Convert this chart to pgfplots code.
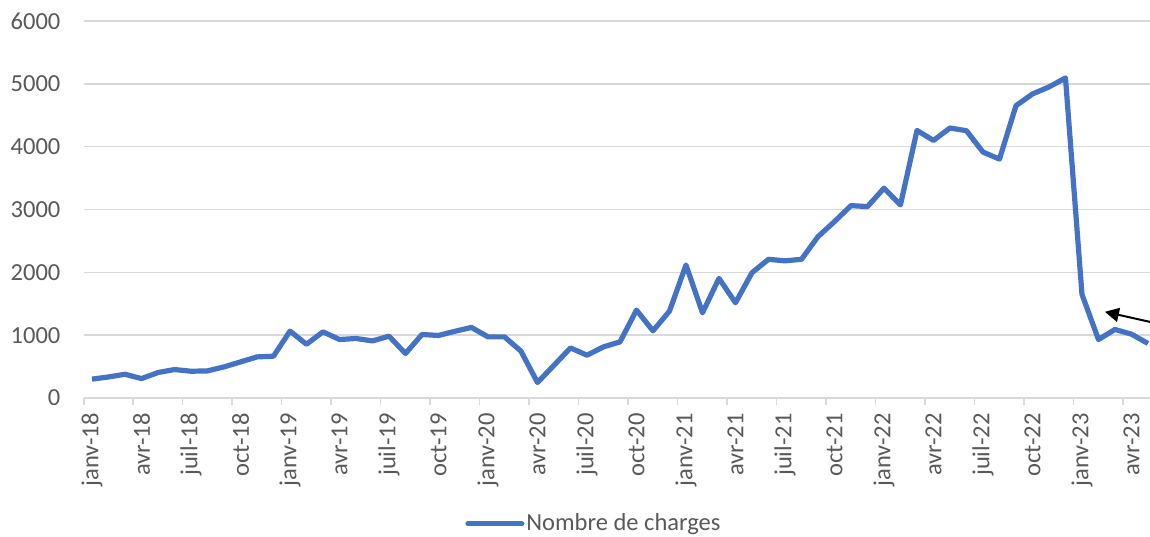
\documentclass[border=0pt]{standalone}
\usepackage{fontspec}
\setmainfont{Carlito}
\usepackage{pgfplots}
\pgfplotsset{compat=1.18}
\usetikzlibrary{arrows.meta}

\definecolor{serie}{HTML}{4472C4}
\definecolor{txtgray}{HTML}{595959}
\definecolor{gridgray}{HTML}{D9D9D9}

\begin{document}
\begin{tikzpicture}
\useasboundingbox (0,0) rectangle (575bp,268.5bp);
\begin{axis}[
    scale only axis,
    width=533.1bp, height=188.5bp,
    at={(41.875bp,69.5bp)}, anchor=south west,
    xmin=-0.5, xmax=64.12,
    ymin=0, ymax=6000,
    axis line style={draw=none},
    ytick={0,1000,...,6000},
    ytick style={draw=none},
    ymajorgrids,
    major grid style={gridgray, line width=0.75bp},
    xtick={0,3,...,63},
    xticklabels={janv-18,avr-18,juil-18,oct-18,janv-19,avr-19,juil-19,oct-19,
                 janv-20,avr-20,juil-20,oct-20,janv-21,avr-21,juil-21,oct-21,
                 janv-22,avr-22,juil-22,oct-22,janv-23,avr-23},
    xtick pos=bottom,
    xtick style={draw=none},
    extra x ticks={-0.5,2.5,...,62.5},
    extra x tick labels={},
    extra x tick style={xtick style={draw=gridgray, line width=0.75bp},
        major tick length=3.5bp, tick align=outside, xtick pos=bottom,
        xmajorgrids=false},
    /pgf/number format/assume math mode=true,
    /pgf/number format/1000 sep={},
    tick label style={font=\fontsize{12.3}{14}\selectfont, text=txtgray},
    yticklabel style={anchor=east, inner sep=0pt, xshift=-11.5bp},
    xticklabel style={rotate=90, anchor=east, inner sep=0pt},
    xticklabel shift=7.5bp,
    clip=false,
    legend style={at={(0.4785,-0.334)}, anchor=center, draw=none, fill=none,
        font=\fontsize{12.3}{14}\selectfont, text=txtgray,
        nodes={inner sep=1bp}},
    legend image code/.code={\draw[#1, line width=2.5bp, line cap=round]
        (0bp,0bp) -- (27bp,0bp);},
]
\addplot[serie, line width=2.6bp, line join=round] coordinates {
 (0,300) (1,335) (2,378) (3,309) (4,405) (5,453) (6,426) (7,431)
 (8,495) (9,574) (10,654) (11,665) (12,1064) (13,856) (14,1053) (15,931)
 (16,947) (17,909) (18,984) (19,708) (20,1011) (21,995) (22,1062) (23,1123)
 (24,973) (25,973) (26,745) (27,246) (28,521) (29,797) (30,681) (31,814)
 (32,893) (33,1399) (34,1069) (35,1383) (36,2116) (37,1356) (38,1904) (39,1515)
 (40,1994) (41,2207) (42,2183) (43,2207) (44,2568) (45,2807) (46,3062) (47,3046)
 (48,3339) (49,3073) (50,4258) (51,4099) (52,4297) (53,4254) (54,3914) (55,3802)
 (56,4652) (57,4839) (58,4950) (59,5094) (60,1649) (61,931) (62,1091) (63,1016)
 (64,868)
};
\addlegendentry{Nombre de charges}

% annotation arrow
\draw[black, line width=1bp, -{Triangle[length=7bp, width=7bp]}]
    (axis cs:64.4,1195) -- (axis cs:61.39,1372);
\end{axis}
\end{tikzpicture}
\end{document}
